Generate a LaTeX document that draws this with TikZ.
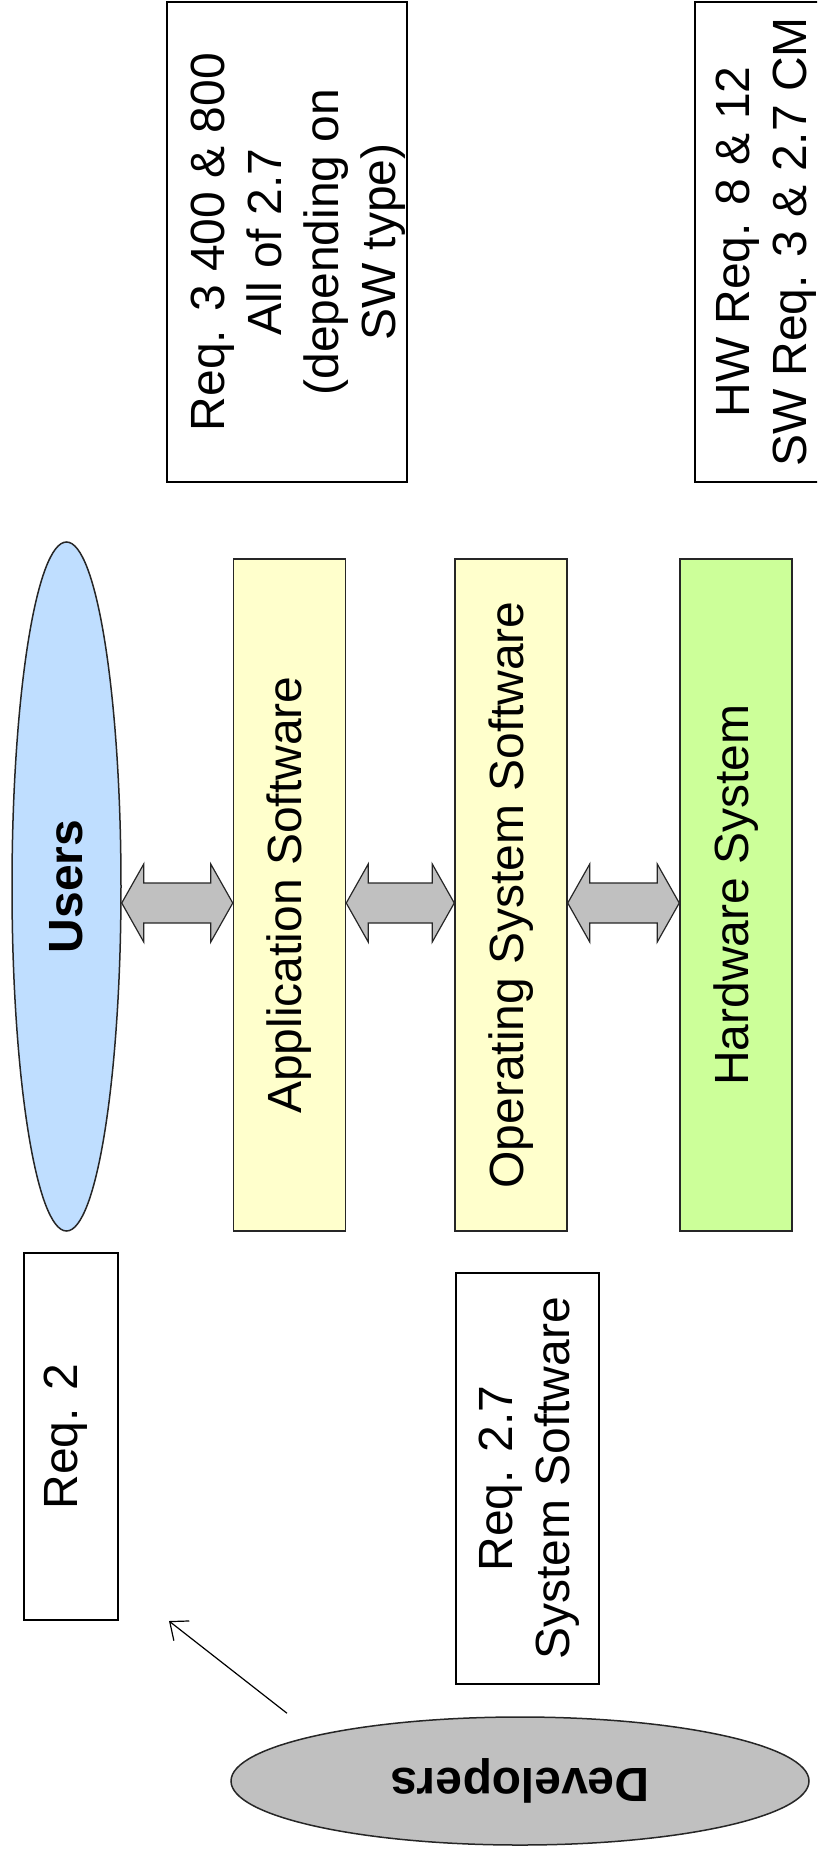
\documentclass[tikz,border=0pt]{standalone}
\usepackage{fontspec}
\setmainfont{Liberation Sans}
\usetikzlibrary{calc,shapes.geometric,arrows.meta}
\definecolor{userblue}{RGB}{191,222,255}
\definecolor{layeryellow}{RGB}{255,255,204}
\definecolor{hwgreen}{RGB}{204,255,153}
\definecolor{arrowgray}{RGB}{192,192,192}

\begin{document}
\begin{tikzpicture}[x=1pt,y=-1pt,
  every node/.style={font=\fontsize{48}{57}\selectfont},
  oval/.style={ellipse,draw=black!85,line width=1.5pt,inner sep=0pt,font=\fontsize{48}{57}\selectfont\bfseries},
  layer/.style={draw=black!85,line width=1.5pt,minimum width=112pt,minimum height=672pt,inner sep=0pt},
  notebox/.style={draw,line width=2pt,inner sep=0pt},
  notetext/.style={rotate=90,anchor=north,align=center,inner sep=0pt},
  blockarrow/.style={draw=black!85,line width=1.2pt,fill=arrowgray,line join=miter},
  pointer/.style={-{Straight Barb[length=15pt,width=25pt]},line width=1.2pt}]
  \useasboundingbox (0,0) rectangle (817,1853);
  \clip (0,0) rectangle (817,1853);

  \node[oval,fill=userblue,minimum width=109pt,minimum height=689pt] (users) at (66.5,886.5) {\rotatebox{90}{Users}};
  \node[layer,fill=layeryellow] (app) at (289.5,895) {\rotatebox{90}{Application Software}};
  \node[layer,fill=layeryellow] (os) at (511,895) {\rotatebox{90}{Operating System Software}};
  \node[layer,fill=hwgreen] (hw) at (736,895) {\rotatebox{90}{Hardware System}};
  \node[oval,fill=arrowgray,minimum width=578pt,minimum height=128pt] (dev) at (520,1781) {\rotatebox{180}{Developers}};

  \node[notebox,minimum width=240pt,minimum height=480pt] (req3) at (287,242) {};
  \node[notetext] (req3text) at ($(req3.west)+(25,0)$) {Req. 3 400 \& 800\\All of 2.7\\(depending on\\SW type)};
  \node[notebox,minimum width=150pt,minimum height=480pt] (hwreq) at (770,242) {};
  \node[notetext] (hwreqtext) at ($(hwreq.west)+(22,0)$) {HW Req. 8 \& 12\\SW Req. 3 \& 2.7 CM};
  \node[notebox,minimum width=94pt,minimum height=367pt] (req2) at (71,1436.5) {};
  \node[notetext] (req2text) at ($(req2.west)+(21,0)$) {Req. 2};
  \node[notebox,minimum width=143pt,minimum height=411pt] (req27) at (527.5,1478.5) {};
  \node[notetext] (req27text) at ($(req27.west)+(24,0)$) {Req. 2.7\\System Software};

  \coordinate (mid) at (0,903);
  \foreach \a/\b in {users/app,app/os,os/hw}
    \draw[blockarrow] (\a.east |- mid) -- ++(22,-39) -- ++(0,19) -- ($(\b.west |- mid)+(-22,-20)$)
      -- ++(0,-19) -- (\b.west |- mid) -- ++(-22,39) -- ++(0,-19) -- ($(\a.east |- mid)+(22,20)$)
      -- ++(0,19) -- cycle;

  \coordinate (devtail) at ($(dev.north)+(-233,-3)$);
  \coordinate (req2tip) at ($(req2.south east)+(50,0)$);
  \draw[pointer] (devtail) -- (req2tip);
\end{tikzpicture}
\end{document}
